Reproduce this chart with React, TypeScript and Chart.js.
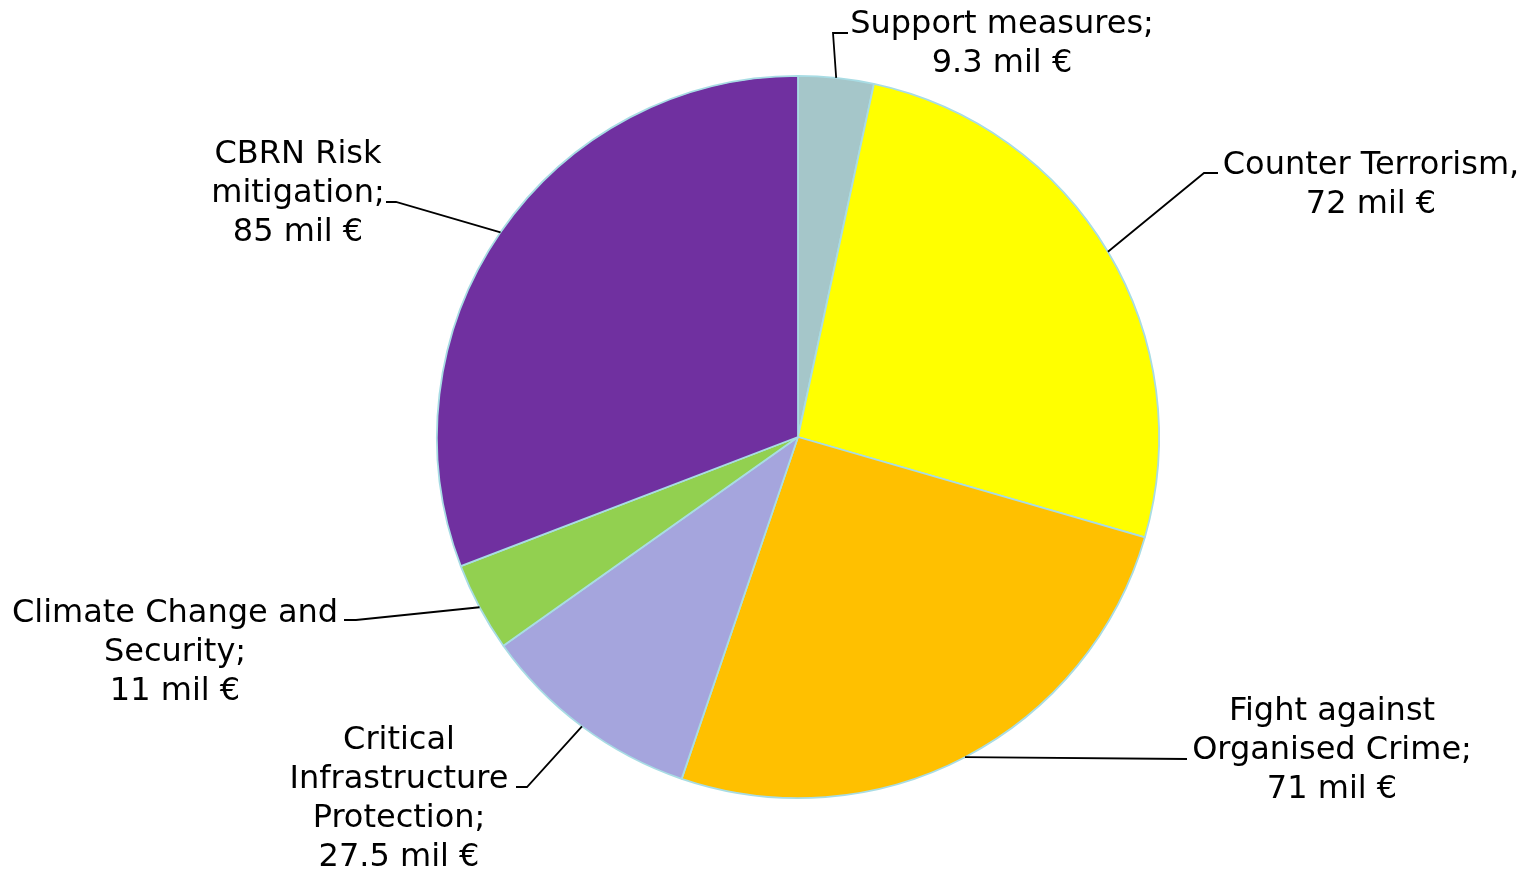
import React, { useEffect, useRef } from "react";
import { Chart, registerables } from "chart.js";

Chart.register(...registerables);

const categories = [
  "Support measures",
  "Counter Terrorism",
  "Fight against Organised Crime",
  "Critical Infrastructure Protection",
  "Climate Change and Security",
  "CBRN Risk mitigation",
];
const values = [9.3, 72, 71, 27.5, 11, 85];
const labelLines = [
  ["Support measures;", "9.3 mil €"],
  ["Counter Terrorism,", "72 mil €"],
  ["Fight against", "Organised Crime;", "71 mil €"],
  ["Critical", "Infrastructure", "Protection;", "27.5 mil €"],
  ["Climate Change and", "Security;", "11 mil €"],
  ["CBRN Risk", "mitigation;", "85 mil €"],
];
const colors = ["#A5C6C9", "#FFFF00", "#FFC000", "#A5A5DD", "#92D050", "#7030A0"];

// label layout relative to pie centre: text centre x, first line y, elbow, end of horizontal
const labelLayout = [
  { tx: 204, ty: -412, ex: 35, ey: -404, hx: 50 },
  { tx: 573, ty: -271, ex: 406, ey: -264, hx: 420 },
  { tx: 534, ty: 275, ex: 389, ey: 322, hx: 389 },
  { tx: -399, ty: 304, ex: -271, ey: 350, hx: -282 },
  { tx: -623, ty: 177, ex: -442, ey: 183, hx: -454 },
  { tx: -500, ty: -282, ex: -402, ey: -235, hx: -412 },
];

const FONT = "32px 'DejaVu Sans', Verdana, sans-serif";
const LINE_H = 39;

const labelPlugin = {
  id: "outerLabels",
  afterDraw(chart: any) {
    const ctx = chart.ctx;
    const meta = chart.getDatasetMeta(0);
    ctx.save();
    ctx.font = FONT;
    ctx.fillStyle = "#000000";
    ctx.strokeStyle = "#000000";
    ctx.lineWidth = 1.8;
    ctx.textAlign = "center";
    ctx.textBaseline = "middle";
    meta.data.forEach((arc: any, i: number) => {
      const cx = arc.x;
      const cy = arc.y;
      const mid = (arc.startAngle + arc.endAngle) / 2;
      const r = arc.outerRadius;
      const sx = cx + Math.cos(mid) * r;
      const sy = cy + Math.sin(mid) * r;
      const L = labelLayout[i];
      ctx.beginPath();
      ctx.moveTo(sx, sy);
      ctx.lineTo(cx + L.ex, cy + L.ey);
      ctx.lineTo(cx + L.hx, cy + L.ey);
      ctx.stroke();
      labelLines[i].forEach((line, j) => {
        ctx.fillText(line, cx + L.tx, cy + L.ty + j * LINE_H);
      });
    });
    ctx.restore();
  },
};

export default function App() {
  const ref = useRef<HTMLCanvasElement>(null);
  useEffect(() => {
    if (!ref.current) return;
    const chart = new Chart(ref.current, {
      type: "pie",
      data: {
        labels: categories,
        datasets: [
          {
            data: values,
            backgroundColor: colors,
            borderColor: "#A8DCE4",
            borderWidth: 1.8,
          },
        ],
      },
      options: {
        animation: false,
        responsive: true,
        maintainAspectRatio: false,
        layout: { padding: { top: 75, bottom: 70, left: 436, right: 368 } },
        plugins: {
          legend: { display: false },
          tooltip: { enabled: false },
          title: { display: false },
        },
      },
      plugins: [labelPlugin],
    });
    return () => chart.destroy();
  }, []);
  return (
    <div style={{ position: "fixed", left: 0, top: 0, width: 1528, height: 869, background: "#fff" }}>
      <canvas ref={ref} />
    </div>
  );
}
